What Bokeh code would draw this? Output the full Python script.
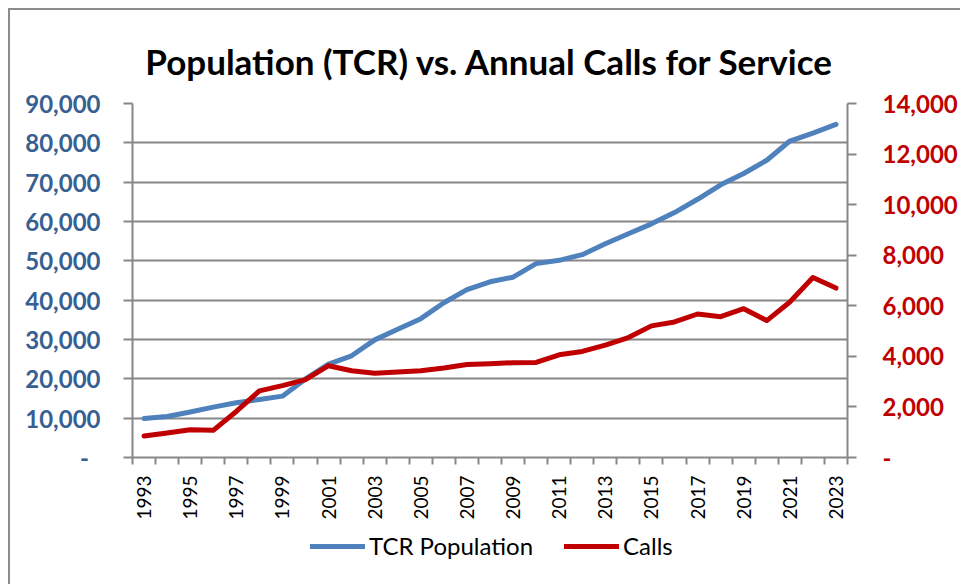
import math
from bokeh.plotting import figure
from bokeh.layouts import column
from bokeh.models import (LinearAxis, Range1d, FixedTicker, CustomJSTickFormatter,
                          Legend, LegendItem, ColumnDataSource)
from bokeh.embed import file_html
from bokeh.resources import INLINE

# ---- data ----
years = [1993, 1994, 1995, 1996, 1997, 1998, 1999, 2000, 2001, 2002, 2003,
         2004, 2005, 2006, 2007, 2008, 2009, 2010, 2011, 2012, 2013, 2014,
         2015, 2016, 2017, 2018, 2019, 2020, 2021, 2022, 2023]
population = [9900, 10440, 11550, 12800, 13900, 14740, 15600, 19970, 23760,
              25860, 29900, 32600, 35300, 39350, 42700, 44670, 45840, 49290,
              50130, 51570, 54350, 56880, 59400, 62260, 65650, 69340, 72210,
              75580, 80460, 82480, 84680]
calls = [850, 970, 1100, 1075, 1820, 2635, 2845, 3080, 3630, 3430, 3330,
         3380, 3430, 3540, 3680, 3710, 3750, 3760, 4060, 4195, 4445, 4745,
         5205, 5360, 5675, 5570, 5885, 5415, 6150, 7120, 6700]
left_ticks = [0, 10000, 20000, 30000, 40000, 50000, 60000, 70000, 80000, 90000]
right_ticks = [0, 2000, 4000, 6000, 8000, 10000, 12000, 14000]
label_years = years[::2]

FONT = "Lato"
GRAY = "#878787"
BLUE = "#4F81BD"
RED = "#C00000"

W = 950
H1, H2 = 512, 62

src = ColumnDataSource(dict(year=years, pop=population, calls=calls))

p = figure(width=W, height=H1, output_backend="svg", toolbar_location=None,
           x_range=Range1d(years[0] - 0.5, years[-1] + 0.5),
           y_range=Range1d(left_ticks[0], left_ticks[-1]),
           min_border_left=122, min_border_right=104, min_border_top=93,
           min_border_bottom=63)
p.outline_line_color = None
p.background_fill_color = "white"
p.border_fill_color = "white"

p.extra_y_ranges = {"calls": Range1d(right_ticks[0], right_ticks[-1])}

# title
p.title.text = "Population (TCR) vs. Annual Calls for Service"
p.title.text_font = FONT
p.title.text_font_style = "bold"
p.title.text_font_size = "35px"
p.title.align = "center"
p.title.vertical_align = "top"
p.title.text_color = "black"
p.title.standoff = 40

# x axis
xa = p.xaxis[0]
xa.ticker = FixedTicker(ticks=label_years,
                        minor_ticks=[y - 0.5 for y in years] + [years[-1] + 0.5])
xa.major_label_orientation = math.pi / 2
xa.major_tick_out = 7
xa.major_tick_in = 0
xa.major_tick_line_color = None
xa.minor_tick_out = 7
xa.minor_tick_in = 0
xa.minor_tick_line_color = GRAY
xa.minor_tick_line_width = 2
xa.axis_line_color = GRAY
xa.axis_line_width = 2
xa.major_label_text_font = FONT
xa.major_label_text_font_size = "19px"
xa.major_label_text_color = "black"
xa.major_label_standoff = 11

fmt_left = CustomJSTickFormatter(code=r"""
if (tick == 0) { return "-\u00a0\u00a0"; }
return Math.round(tick).toString().replace(/\B(?=(\d{3})+(?!\d))/g, ",");
""")
fmt_right = CustomJSTickFormatter(code=r"""
if (tick == 0) { return "-"; }
return Math.round(tick).toString().replace(/\B(?=(\d{3})+(?!\d))/g, ",");
""")

# left axis
ya = p.yaxis[0]
ya.ticker = FixedTicker(ticks=left_ticks)
ya.formatter = fmt_left
ya.major_tick_out = 9
ya.major_tick_in = 0
ya.minor_tick_line_color = None
ya.major_tick_line_color = GRAY
ya.major_tick_line_width = 2
ya.axis_line_color = GRAY
ya.axis_line_width = 2
ya.major_label_text_font = FONT
ya.major_label_text_font_style = "bold"
ya.major_label_text_font_size = "24px"
ya.major_label_text_color = "#376092"
ya.major_label_standoff = 23

# right axis
ra = LinearAxis(y_range_name="calls", ticker=FixedTicker(ticks=right_ticks),
                formatter=fmt_right)
ra.major_tick_out = 9
ra.major_tick_in = 0
ra.minor_tick_line_color = None
ra.major_tick_line_color = GRAY
ra.major_tick_line_width = 2
ra.axis_line_color = GRAY
ra.axis_line_width = 2
ra.major_label_text_font = FONT
ra.major_label_text_font_style = "bold"
ra.major_label_text_font_size = "24px"
ra.major_label_text_color = RED
ra.major_label_standoff = 26
p.add_layout(ra, "right")

# grid
p.xgrid.grid_line_color = None
p.ygrid.ticker = FixedTicker(ticks=left_ticks)
p.ygrid.grid_line_color = GRAY
p.ygrid.grid_line_width = 2

# lines
p.line("year", "pop", source=src, line_color=BLUE, line_width=5,
       line_cap="round", line_join="round")
p.line("year", "calls", source=src, y_range_name="calls", line_color=RED,
       line_width=5, line_cap="round", line_join="round")

# legend strip below the chart (same series, kept outside its visible range)
pl = figure(width=W, height=H2, output_backend="svg", toolbar_location=None,
            x_range=Range1d(years[0] - 0.5, years[-1] + 0.5),
            y_range=Range1d(-2, -1), min_border=0,
            x_axis_location=None, y_axis_location=None)
pl.grid.visible = False
pl.outline_line_color = None
pl.background_fill_color = "white"
pl.border_fill_color = "white"
l1 = pl.line("year", "pop", source=src, line_color=BLUE, line_width=5, line_cap="round")
l2 = pl.line("year", "calls", source=src, line_color=RED, line_width=5, line_cap="round")

legend = Legend(items=[LegendItem(label="TCR Population", renderers=[l1]),
                       LegendItem(label="Calls", renderers=[l2])],
                orientation="horizontal", location=(178, 24),
                label_text_font=FONT, label_text_font_size="24px",
                label_text_color="black", glyph_width=55, glyph_height=20,
                label_standoff=4, spacing=31, border_line_color=None,
                background_fill_alpha=0, margin=0, padding=4)
pl.add_layout(legend, "center")

layout = column(p, pl, spacing=0,
                styles={"margin-left": "8px", "margin-top": "8px",
                        "border-left": "2px solid #8c8c8c",
                        "border-top": "2px solid #8c8c8c"})

open("out.html", "w").write(file_html(layout, INLINE))
